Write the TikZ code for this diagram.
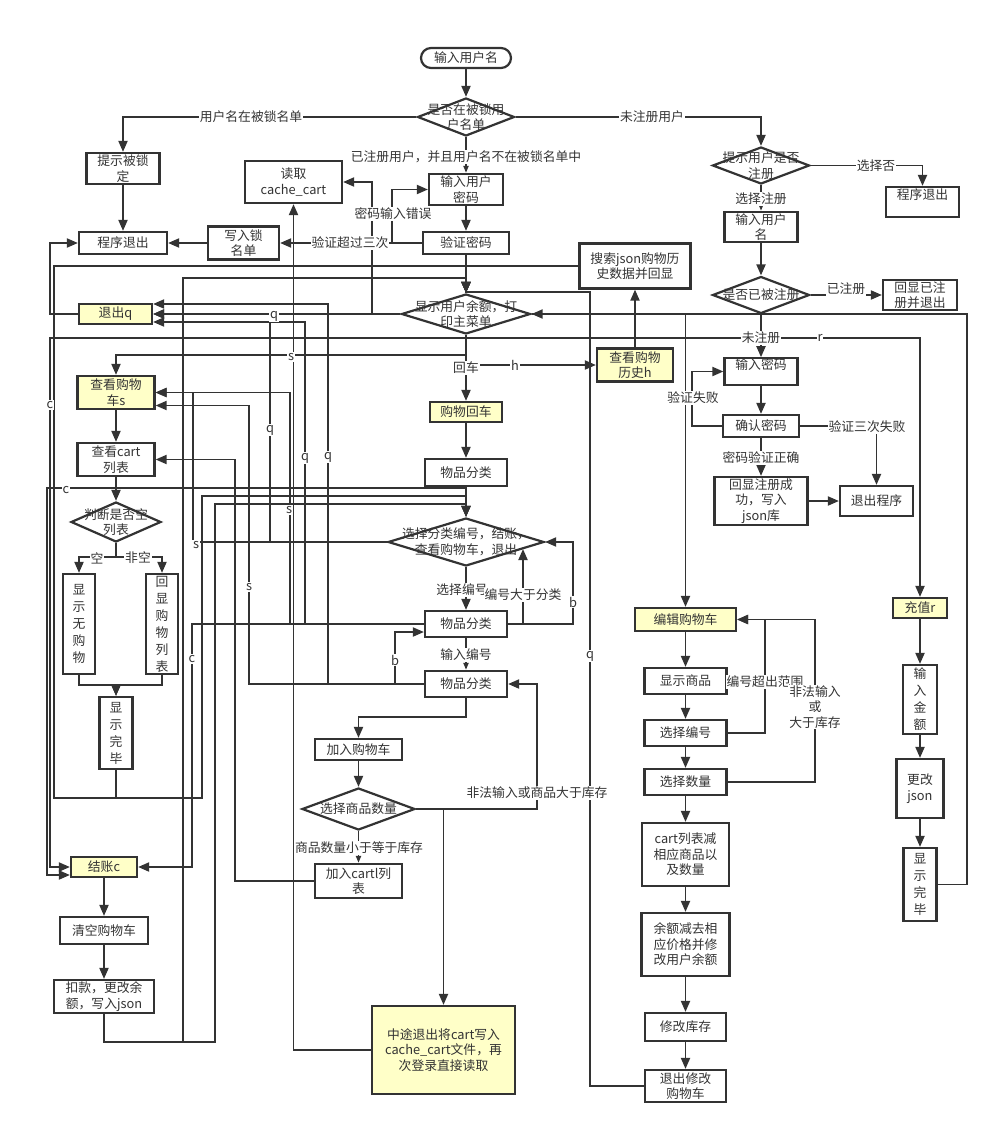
\documentclass[tikz,border=0pt]{standalone}
\usepackage{fontspec}
\setmainfont{Noto Sans CJK SC}
\usetikzlibrary{shapes.geometric, arrows.meta, calc}
\definecolor{ink}{HTML}{333333}
\definecolor{note}{HTML}{FFFFC8}
\newcommand\fs{\fontsize{12.8}{15.5}\selectfont}
\newcommand\vfs{\fontsize{12.8}{17}\selectfont}

\begin{document}
\begin{tikzpicture}[x=1pt, y=-1pt,
    sz/.style 2 args={minimum width=#1pt, minimum height=#2pt},
    box/.style={draw=ink, line width=2.2pt, fill=white, inner sep=0pt, align=center, font=\fs, text=ink},
    ybox/.style={box, fill=note},
    vbox/.style={box, font=\vfs},
    term/.style={box, rounded corners=10pt},
    dia/.style={diamond, draw=ink, line width=2.2pt, fill=white, inner sep=0pt},
    txt/.style={font=\fs, align=center, text=ink, inner sep=0pt},
    arr/.style={draw=ink, line width=1.9pt, -{Triangle[length=11pt, width=9pt]}},
    arrs/.style={draw=ink, line width=1.9pt, -{Triangle[length=7pt, width=5pt]}},
    lab/.style={fill=white, inner sep=1pt, font=\fs, text=ink, align=center}]
    \useasboundingbox (0,0) rectangle (998,1134);

    % login
    \node[term, sz={90}{20}] (start) at (466,58) {输入用户名};
    \node[dia, sz={97}{38}, label={[txt]center:{是否在被锁用\\户名单}}] (dLock) at (466,117) {};
    \node[box, sz={73}{31}] (tipLock) at (123,168.5) {提示被锁\\定};
    \node[box, sz={88}{22}] (exitL) at (123,243) {程序退出};
    \node[box, sz={71}{33}] (writeLock) at (243.5,243) {写入锁\\名单};
    \node[box, sz={97}{42}] (readCache) at (293.5,182) {读取\\cache\_cart};
    \node[box, sz={74}{31}] (inPwd) at (466,189.5) {输入用户\\密码};
    \node[box, sz={86}{22}] (chkPwd) at (466,243) {验证密码};
    \node[box, sz={111}{45}] (search) at (635,266) {搜索json购物历\\史数据并回显};
    \node[dia, sz={129}{40}, label={[txt]center:{显示用户余额，打\\印主菜单}}] (dMenu) at (466,314) {};

    % register
    \node[dia, sz={97}{37}, label={[txt]center:{提示用户是否\\注册}}] (dReg) at (761,165.5) {};
    \node[box, sz={73}{30}] (exitR) at (922.5,202) {程序退出\\~};
    \node[box, sz={73}{30}] (inName) at (761,227) {输入用户\\名};
    \node[dia, sz={97}{37}, label={[txt]center:{是否已被注册}}] (dDup) at (761,295) {};
    \node[box, sz={74}{30}] (dupExit) at (920,295) {回显已注\\册并退出};
    \node[box, sz={73}{23}] (inPw2) at (761,371.5) {输入密码\\~};
    \node[box, sz={76}{22}] (cfmPw) at (761,426) {确认密码};
    \node[box, sz={93}{48}] (regOk) at (761,501) {回显注册成\\功，写入\\json库};
    \node[box, sz={73}{30}] (exitP) at (876.5,501) {退出程序};

    % shopping
    \node[ybox, sz={76}{33}] (hist) at (635,365) {查看购物\\历史h};
    \node[ybox, sz={72}{20}] (enter) at (466,412) {购物回车};
    \node[box, sz={82}{27}] (cat1) at (466,472.5) {物品分类};
    \node[dia, sz={156}{48}, label={[txt]center:{选择分类编号，结账，\\查看购物车，退出}}] (dCat) at (466,542) {};
    \node[box, sz={82}{26}] (cat2) at (466,624) {物品分类};
    \node[box, sz={82}{26}] (cat3) at (466,684) {物品分类};
    \node[box, sz={87}{21}] (addCart) at (358.5,749.5) {加入购物车};
    \node[dia, sz={113}{42}, label={[txt]center:{选择商品数量}}] (dQty) at (358.5,809) {};
    \node[box, sz={87}{34}] (addList) at (358.5,881) {加入cartl列\\表};
    \node[ybox, sz={143}{88}] (cacheW) at (443.5,1050) {中途退出将cart写入\\cache\_cart文件，再\\次登录直接读取};

    % cart and checkout
    \node[ybox, sz={73}{20}] (quitQ) at (115.5,314) {退出q};
    \node[ybox, sz={77}{33}] (viewS) at (116,392.5) {查看购物\\车s};
    \node[box, sz={77}{33}] (viewList) at (116,459.5) {查看cart\\列表};
    \node[dia, sz={90}{40}, label={[txt]center:{判断是否空\\列表}}] (dEmpty) at (116,522) {};
    \node[vbox, sz={32}{100}] (noItem) at (79,624) {显\\示\\无\\购\\物};
    \node[vbox, sz={32}{100}] (showList) at (162,624) {回\\显\\购\\物\\列\\表};
    \node[vbox, sz={33}{72}] (doneL) at (116,733) {显\\示\\完\\毕};
    \node[ybox, sz={66}{20}] (pay) at (104,867) {结账c};
    \node[box, sz={88}{27}] (clear) at (104,930.5) {清空购物车};
    \node[box, sz={100}{33}] (deduct) at (104,996.5) {扣款，更改余\\额，写入json};

    % edit cart
    \node[ybox, sz={101}{23}] (edit) at (685.5,619.5) {编辑购物车};
    \node[box, sz={82}{26}] (showGoods) at (685.5,681) {显示商品};
    \node[box, sz={82}{26}] (pickNo) at (685.5,733) {选择编号};
    \node[box, sz={82}{26}] (pickQty) at (685.5,782) {选择数量};
    \node[box, sz={87}{63}] (cartSub) at (685.5,854.5) {cart列表减\\相应商品以\\及数量};
    \node[box, sz={88}{63}] (balSub) at (685.5,944.5) {余额减去相\\应价格并修\\改用户余额};
    \node[box, sz={81}{28}] (stock) at (685.5,1027) {修改库存};
    \node[box, sz={81}{32}] (editQuit) at (685.5,1086) {退出修改\\购物车};

    % recharge
    \node[ybox, sz={54}{20}] (charge) at (920,608) {充值r};
    \node[vbox, sz={34}{69}] (amount) at (920,699.5) {输\\入\\金\\额};
    \node[box, sz={47}{59}] (upJson) at (920,788.5) {更改\\json};
    \node[vbox, sz={33}{73}] (doneR) at (920,884.5) {显\\示\\完\\毕};

    % login connectors
    \draw[arr] (start) -- (dLock);
    \draw[arr] (dLock.west) -| (tipLock.north);
    \draw[arr] (dLock.east) -| (dReg.north);
    \draw[arrs] (dLock.south) -- (inPwd.north);
    \draw[arr] (tipLock) -- (exitL);
    \draw[arr] (inPwd) -- (chkPwd);
    \draw[arr] (chkPwd.west) -- (writeLock.east);
    \draw[arr] (chkPwd.west) -- (392,243) |- (inPwd.west);
    \draw[arr] (writeLock) -- (exitL);
    \draw[arr] (chkPwd) -- (dMenu);

    % register connectors
    \draw[arr] (dReg.east) -| (exitR.north);
    \draw[arrs] (dReg) -- (inName);
    \draw[arr] (inName) -- (dDup);
    \draw[arr] (dDup) -- (dupExit);
    \draw[arr] (dDup) -- (inPw2);
    \draw[arr] (inPw2) -- (cfmPw);
    \draw[arr] (cfmPw.west) -- (692,426) |- (inPw2.west);
    \draw[arr] (cfmPw.east) -| (exitP.north);
    \draw[arr] (cfmPw) -- (regOk);
    \draw[arr] (regOk) -- (exitP);

    % main menu
    \draw[arr] (dMenu) -- (enter);
    \draw[arr] (dMenu.south |- hist.west) -- (hist.west);
    \draw[arr] (hist) -- (search);
    \draw[arr] (search.west) -| (dMenu.north);
    \draw[arr] (dMenu.west) -- (quitQ.east);
    \draw[arr] (dMenu.west) -- (372,314) |- (readCache.east);
    \draw[arr] (dMenu.south) -- (466,338) -- (50,338) |- (pay.west);
    \draw[arr] (dMenu.south) -- (466,338) -| (charge.north);
    \draw[arr] (dMenu.south) -- (466,355) -| (viewS.north);
    \draw[arr] (dMenu.east) -| (edit.north);
    \draw[arr] (quitQ.west) -- (50,314) |- (exitL.west);

    % categories
    \draw[arr] (enter) -- (cat1);
    \draw[arr] (cat1) -- (dCat);
    \draw[arr] (cat1.south) -- (466,488) -- (47,488) |- ($(pay.west)+(0,8)$);
    \draw[arr] (dCat.west) -- (193,542) |- (viewS.east);
    \draw[arr] (dCat.west) -- (270,542) |- (quitQ.east);
    \draw[arr] (dCat) -- (cat2);
    \draw[arr] (cat2.west) -- (192,624) |- (pay.east);
    \draw[arr] (cat2.west) -- (290,624) |- (viewS.east);
    \draw[arr] (cat2.west) -- (305,624) |- ($(quitQ.east)+(0,8)$);
    \draw[arr] (cat2.east) -- (523,624) -- (523,549);
    \draw[arr] (cat2.east) -- (573,624) |- (dCat.east);
    \draw[arrs] (cat2) -- (cat3);
    \draw[arr] (cat3.west) -- (249,684) |- ($(viewS.east)+(0,13)$);
    \draw[arr] (cat3.west) -- (328,684) |- ($(quitQ.east)+(0,-10)$);
    \draw[arr] (cat3.west) -- (395,684) |- ($(cat2.west)+(0,8)$);
    \draw[arr] (cat3.south) -- (466,717) -| (addCart.north);
    \draw[arr] (addCart) -- (dQty);
    \draw[arrs] (dQty) -- (addList);
    \draw[arr] (dQty.east) -- (537,809) |- (cat3.east);
    \draw[arr] (dQty.east) -| (cacheW.north);
    \draw[arr] (addList.west) -- (235,881) |- (viewList.east);
    \draw[arr] (cacheW.west) -| (readCache.south);

    % cart and checkout
    \draw[arr] (viewS) -- (viewList);
    \draw[arr] (viewList) -- (dEmpty);
    \draw[arr] (dEmpty.south) -- (116,557) -| (noItem.north);
    \draw[arr] (dEmpty.south) -- (116,557) -| (showList.north);
    \draw[arr] (noItem.south) |- (116,685) -- (doneL.north);
    \draw[arr] (showList.south) |- (116,685) -- (doneL.north);
    \draw[arr] (doneL.south) -- (116,798) -- (54,798) -- (54,266) -- (466,266) -- (dMenu.north);
    \draw[arr] (doneL.south) -- (116,798) -- (202,798) -- (202,496) -- (466,496) -- (dCat.north);
    \draw[arr] (pay) -- (clear);
    \draw[arr] (clear) -- (deduct);
    \draw[arr] (deduct.south) -- (104,1042) -- (183,1042) -- (183,278) -- (466,278) -- (dMenu.north);
    \draw[arr] (deduct.south) -- (104,1042) -- (215,1042) -- (215,504) -- (466,504) -- (dCat.north);

    % edit cart and recharge
    \draw[arr] (edit) -- (showGoods);
    \draw[arr] (showGoods) -- (pickNo);
    \draw[arr] (pickNo) -- (pickQty);
    \draw[arr] (pickQty) -- (cartSub);
    \draw[arr] (cartSub) -- (balSub);
    \draw[arr] (balSub) -- (stock);
    \draw[arr] (stock) -- (editQuit);
    \draw[arr] (pickNo.east) -- (765,733) |- (edit.east);
    \draw[arr] (pickQty.east) -- (815,782) |- (edit.east);
    \draw[arr] (editQuit.west) -- (590,1086) -- (590,292) -- (466,292) -- (dMenu.north);
    \draw[arr] (charge) -- (amount);
    \draw[arr] (amount) -- (upJson);
    \draw[arr] (upJson) -- (doneR);
    \draw[arr] (doneR.east) -- (967,884.5) |- (dMenu.east);

    % labels
    \node[lab] (l1) at (251,117) {用户名在被锁名单};
    \node[lab] (l2) at (652,117) {未注册用户};
    \node[lab] (l3) at (466,157) {已注册用户，并且用户名不在被锁名单中};
    \node[lab] (l4) at (393,214) {密码输入错误};
    \node[lab] (l5) at (350,243) {验证超过三次};
    \node[lab] (l6) at (876,166) {选择否};
    \node[lab] (l7) at (761,199) {选择注册};
    \node[lab] (l8) at (846,289) {已注册};
    \node[lab] (l9) at (761,338) {未注册};
    \node[lab] (l10) at (693,398) {验证失败};
    \node[lab] (l11) at (867,427) {验证三次失败};
    \node[lab] (l12) at (761,458) {密码验证正确};
    \node[lab] (l13) at (466,368) {回车};
    \node[lab] (l14) at (515,365) {h};
    \node[lab] (l15) at (820,338) {r};
    \node[lab] (l16) at (291,357) {s};
    \node[lab] (l17) at (274,316) {q};
    \node[lab] (l18) at (50,405) {c};
    \node[lab] (l19) at (66,490) {c};
    \node[lab] (l20) at (270,430) {q};
    \node[lab] (l21) at (305,458) {q};
    \node[lab] (l22) at (328,457) {q};
    \node[lab] (l23) at (289,510) {s};
    \node[lab] (l24) at (196,545) {s};
    \node[lab] (l25) at (249,587) {s};
    \node[lab] (l26) at (192,659) {c};
    \node[lab] (l27) at (395,660) {b};
    \node[lab] (l28) at (573,602) {b};
    \node[lab] (l29) at (590,656) {q};
    \node[lab] (l30) at (462,590) {选择编号};
    \node[lab] (l31) at (523,595) {编号大于分类};
    \node[lab] (l32) at (466,655) {输入编号};
    \node[lab] (l33) at (537,793) {非法输入或商品大于库存};
    \node[lab] (l34) at (359,848) {商品数量小于等于库存};
    \node[lab] (l35) at (97,558) {空};
    \node[lab] (l36) at (138,558) {非空};
    \node[lab] (l37) at (765,682) {编号超出范围};
    \node[lab] (l38) at (815,707) {非法输入\\或\\大于库存};
\end{tikzpicture}
\end{document}
